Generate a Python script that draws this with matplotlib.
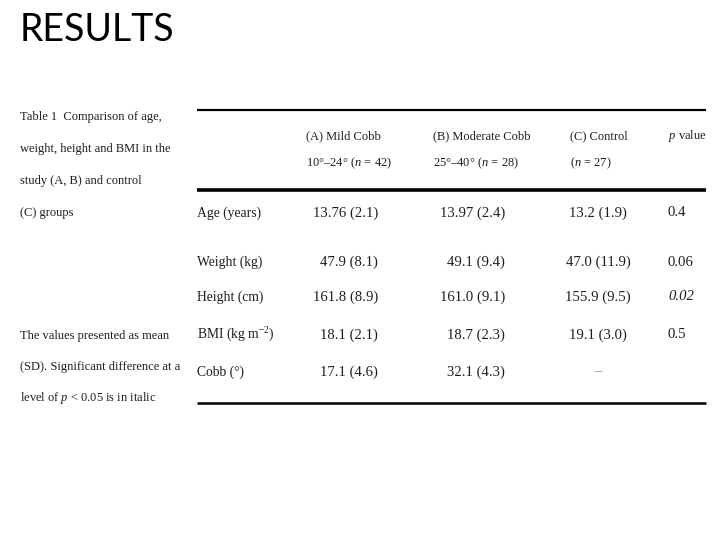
import matplotlib
matplotlib.use("Agg")
import matplotlib.pyplot as plt

plt.rcParams['mathtext.fontset'] = 'custom'
plt.rcParams['mathtext.rm'] = 'Liberation Serif'
plt.rcParams['mathtext.it'] = 'Liberation Serif:italic'

title = "RESULTS"
caption = ["Table 1  Comparison of age,", "weight, height and BMI in the",
           "study (A, B) and control", "(C) groups"]
note = ["The values presented as mean", "(SD). Significant difference at a",
        r"level of $p$ < 0.05 is in italic"]
headers = [r"(A) Mild Cobb" + "\n" + r"10°–24° ($n$ = 42)",
           r"(B) Moderate Cobb" + "\n" + r"25°–40° ($n$ = 28)",
           r"(C) Control" + "\n" + r"($n$ = 27)",
           r"$p$ value"]
row_labels = ["Age (years)", "Weight (kg)", "Height (cm)", r"BMI (kg m$^{-2}$)", "Cobb (°)"]
col_a = ["13.76 (2.1)", "47.9 (8.1)", "161.8 (8.9)", "18.1 (2.1)", "17.1 (4.6)"]
col_b = ["13.97 (2.4)", "49.1 (9.4)", "161.0 (9.1)", "18.7 (2.3)", "32.1 (4.3)"]
col_c = ["13.2 (1.9)", "47.0 (11.9)", "155.9 (9.5)", "19.1 (3.0)", "–"]
p_vals = ["0.4", "0.06", "0.02", "0.5", ""]
p_italic = [False, False, True, False, False]

fig = plt.figure(figsize=(7.2, 5.4), dpi=100)
ax = fig.add_axes([0, 0, 1, 1])
ax.set_xlim(0, 720)
ax.set_ylim(540, 0)
ax.axis('off')

tc = '#1e1e1e'
serif = 'Liberation Serif'
fs_cap = 9.0
fs_head = 9.0
fs_lab = 9.8
fs_val = 10.6

ax.text(20, 30, title, fontsize=27, family='Lato', color='black', va='center', ha='left')

for i, line in enumerate(caption):
    ax.text(20, 117 + i * 32, line, fontsize=fs_cap, family=serif, color=tc, va='center', ha='left')
for i, line in enumerate(note):
    ax.text(20, 336 + i * 31, line, fontsize=fs_cap, family=serif, color=tc, va='center', ha='left')

# rules
ax.plot([197, 706], [110, 110], color='black', lw=1.6, solid_capstyle='butt')
ax.plot([197, 706], [190, 190], color='black', lw=2.6, solid_capstyle='butt')
ax.plot([197, 706], [403, 403], color='black', lw=1.8, solid_capstyle='butt')

hx = [306, 433, 570, 668]
for x, h in zip(hx, headers):
    if "\n" in h:
        l1, l2 = h.split("\n")
        ax.text(x, 136, l1, fontsize=fs_head, family=serif, color=tc, va='center', ha='left')
        ax.text(x, 163, l2, fontsize=fs_head, family=serif, color=tc, va='center', ha='left')
    else:
        ax.text(x, 136, h, fontsize=fs_head, family=serif, color=tc, va='center', ha='left')

row_y = [213, 262, 297, 335, 372]
for y, lab, a, b, c, p, it in zip(row_y, row_labels, col_a, col_b, col_c, p_vals, p_italic):
    ax.text(197, y, lab, fontsize=fs_lab, family=serif, color=tc, va='center', ha='left')
    ax.text(378, y, a, fontsize=fs_val, family=serif, color=tc, va='center', ha='right')
    ax.text(505, y, b, fontsize=fs_val, family=serif, color=tc, va='center', ha='right')
    ax.text(598, y, c, fontsize=fs_val, family=serif, color=tc if c != "–" else '#888888',
            va='center', ha='center')
    ax.text(668, y, p, fontsize=fs_val, family=serif, color=tc, va='center', ha='left',
            style='italic' if it else 'normal')

fig.savefig("out.png", dpi=100)
